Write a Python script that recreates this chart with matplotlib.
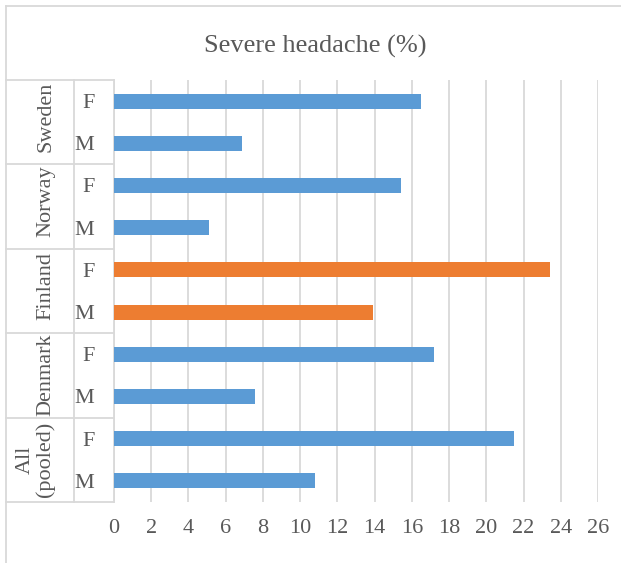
import matplotlib
matplotlib.use("Agg")
import matplotlib.pyplot as plt
from matplotlib.transforms import blended_transform_factory
from matplotlib.lines import Line2D

plt.rcParams['font.family'] = ['Liberation Serif', 'DejaVu Serif']

# data
groups = ["Sweden", "Norway", "Finland", "Denmark", "All\n(pooled)"]
sexes = ["F", "M"]
female = [16.5, 15.4, 23.4, 17.2, 21.5]
male = [6.9, 5.1, 13.9, 7.6, 10.8]
highlight = "Finland"
x_ticks = list(range(0, 27, 2))

text_col = '#595959'
grid_col = '#D9D9D9'
blue = '#5B9BD5'
orange = '#ED7D31'

labels, vals, cols = [], [], []
for g, f, m in zip(groups, female, male):
    c = orange if g == highlight else blue
    for s, v in zip(sexes, [f, m]):
        labels.append(s)
        vals.append(v)
        cols.append(c)
pos = list(range(len(vals)))

W, H = 621, 563
fig = plt.figure(figsize=(W / 100, H / 100), dpi=100)
ax = fig.add_axes([114 / W, 1 - 502 / H, 484 / W, 422 / H])

ax.barh(pos, vals, height=0.355, color=cols, zorder=3)
ax.set_ylim(len(vals) - 0.5, -0.5)
ax.set_xlim(0, 26)
ax.set_xticks(x_ticks)
ax.set_yticks(pos)
ax.set_yticklabels(labels)
ax.xaxis.grid(True, color=grid_col, lw=1.3, zorder=0)
ax.tick_params(axis='x', length=0, pad=12, labelsize=16, labelcolor=text_col)
ax.tick_params(axis='y', length=0, pad=14, labelsize=16, labelcolor=text_col)
for s in ['top', 'right', 'bottom']:
    ax.spines[s].set_visible(False)
ax.spines['left'].set_color(grid_col)
ax.spines['left'].set_linewidth(1.3)

# category table on the left
tr = blended_transform_factory(ax.transAxes, ax.transData)
x_left = (6 - 114) / 484
x_mid = (74 - 114) / 484
for i in range(len(groups) + 1):
    y = -0.5 + 2 * i
    ax.add_line(Line2D([x_left, 0], [y, y], transform=tr, color=grid_col,
                       lw=1.3, clip_on=False))
ax.add_line(Line2D([x_mid, x_mid], [-0.5, len(vals) - 0.5], transform=tr,
                   color=grid_col, lw=1.3, clip_on=False))
row_px = 422 / len(vals)
label_shift = [-5, -5, -5, -1, 0]   # px, upward nudge of group labels
for i, g in enumerate(groups):
    ax.text((55 - 114) / 484, 2 * i + 0.5 + label_shift[i] / row_px, g,
            transform=tr, rotation=90, ha='right', va='center',
            multialignment='center', fontsize=16, color=text_col,
            linespacing=1.05)

# chart border
fig.add_artist(Line2D([6 / W, 6 / W], [0, 1 - 6 / H], color=grid_col, lw=1.3))
fig.add_artist(Line2D([6 / W, 1], [1 - 6 / H, 1 - 6 / H], color=grid_col, lw=1.3))

fig.text(315 / W, 1 - 46 / H, "Severe headache (%)", ha='center', va='center',
         fontsize=19, color=text_col)

fig.savefig("out.png", dpi=100)
